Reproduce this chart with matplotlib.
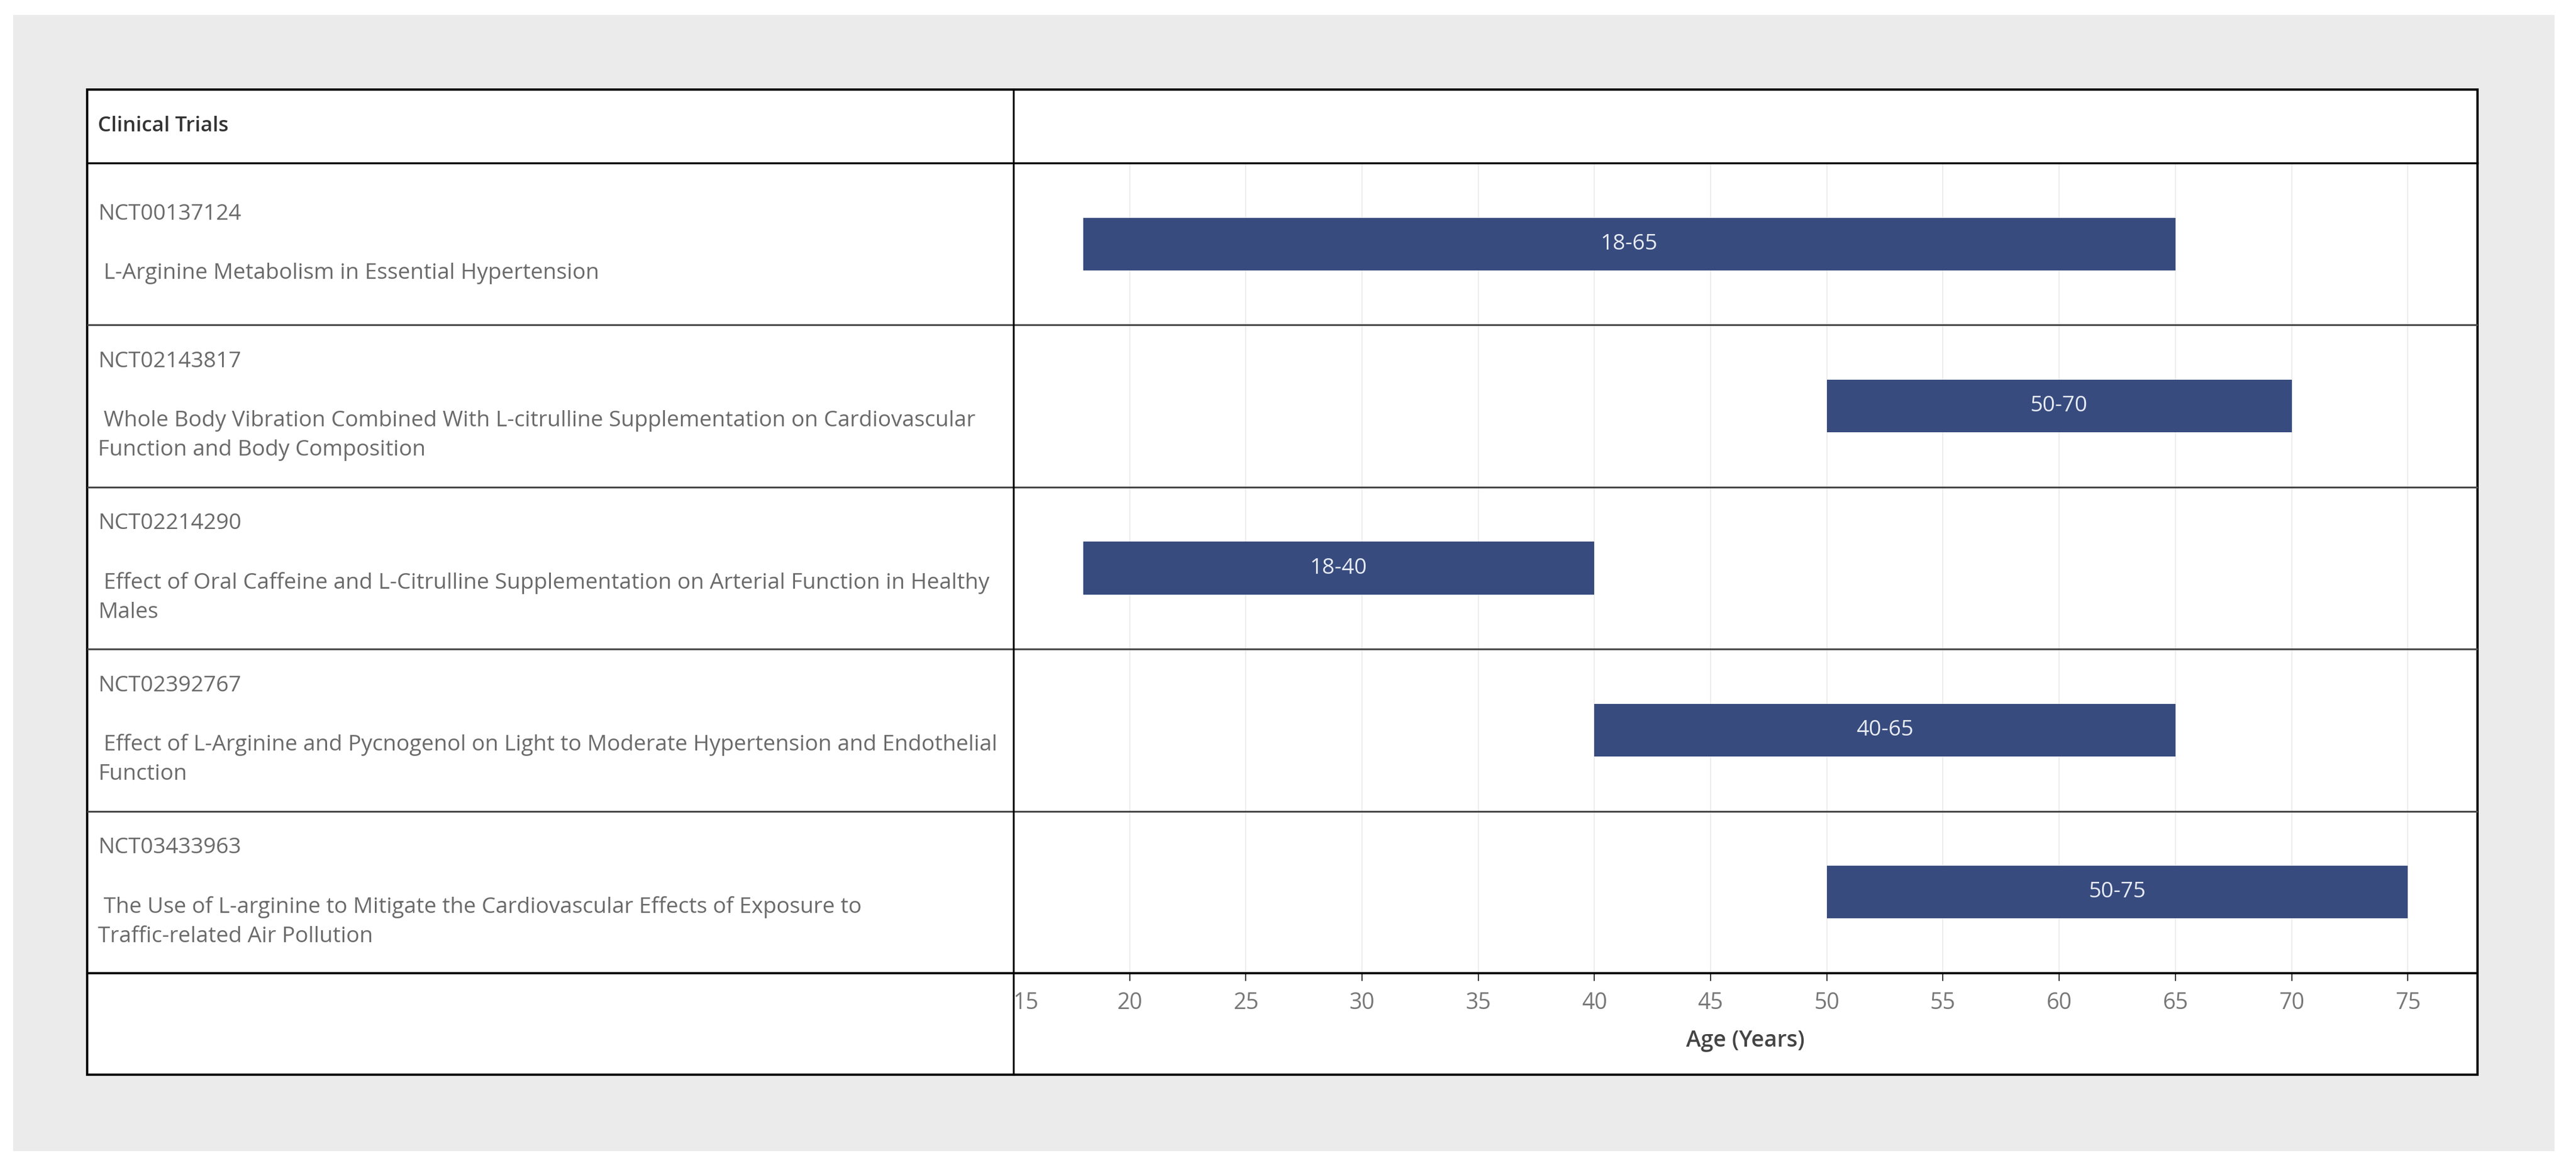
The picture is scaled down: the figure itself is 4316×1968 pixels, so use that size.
import matplotlib
matplotlib.use("Agg")
import matplotlib.pyplot as plt
from matplotlib.patches import Rectangle

# data
trial_ids = ["NCT00137124", "NCT02143817", "NCT02214290", "NCT02392767", "NCT03433963"]
trial_titles = [
    [" L-Arginine Metabolism in Essential Hypertension"],
    [" Whole Body Vibration Combined With L-citrulline Supplementation on Cardiovascular",
     "Function and Body Composition"],
    [" Effect of Oral Caffeine and L-Citrulline Supplementation on Arterial Function in Healthy",
     "Males"],
    [" Effect of L-Arginine and Pycnogenol on Light to Moderate Hypertension and Endothelial",
     "Function"],
    [" The Use of L-arginine to Mitigate the Cardiovascular Effects of Exposure to",
     "Traffic-related Air Pollution"],
]
age_min = [18, 50, 18, 40, 50]
age_max = [65, 70, 40, 65, 75]
age_ticks = [15, 20, 25, 30, 35, 40, 45, 50, 55, 60, 65, 70, 75]
header_label = "Clinical Trials"
axis_label = "Age (Years)"

plt.rcParams['font.family'] = ['Open Sans', 'DejaVu Sans']

W, H = 4316, 1968
fig = plt.figure(figsize=(W / 100, H / 100), dpi=100)
fig.patch.set_facecolor("white")

# table layout in pixels
L, D, R = 146, 1698, 4151
T, HB, AB, B = 150, 273, 1630, 1800
n = len(trial_ids)
row_h = (AB - HB) / n

# background: grey card + white table
bg = fig.add_axes([0, 0, 1, 1], zorder=0)
bg.set_xlim(0, W)
bg.set_ylim(H, 0)
bg.axis("off")
bg.add_patch(Rectangle((22, 25), 4258, 1903, color="#ebebeb", lw=0))
bg.add_patch(Rectangle((L, T), R - L, B - T, color="white", lw=0))

# chart area
ax = fig.add_axes([D / W, 1 - AB / H, (R - D) / W, (AB - HB) / H], zorder=1)
ax.set_facecolor("white")
widths = [hi - lo for lo, hi in zip(age_min, age_max)]
bars = ax.barh(range(n), widths, left=age_min, height=0.325, color="#374b7e", zorder=3)
for i, (lo, hi) in enumerate(zip(age_min, age_max)):
    ax.text((lo + hi) / 2, i, f"{lo}-{hi}", ha="center", va="center",
            color="#e6eaf3", fontsize=26.5, zorder=4)
ax.set_xlim(15, 78)
ax.set_ylim(n - 0.5, -0.5)
ax.set_yticks([])
ax.set_xticks(age_ticks)
ax.grid(axis="x", color="#ececec", lw=1.3)
ax.set_axisbelow(True)
for s in ax.spines.values():
    s.set_visible(False)
ax.tick_params(axis="x", length=9.5, width=1.1, color="black", labelcolor="#777777",
               labelsize=27, pad=13)
ax.get_xticklabels()[0].set_horizontalalignment("left")
ax.set_xlabel(axis_label, fontsize=27, fontweight="semibold", color="#444444", labelpad=18)

# overlay: table lines and left column text
ov = fig.add_axes([0, 0, 1, 1], zorder=2)
ov.set_xlim(0, W)
ov.set_ylim(H, 0)
ov.axis("off")
ov.patch.set_alpha(0)

for i in range(1, n):
    y = HB + i * row_h
    ov.plot([L, R], [y, y], color="#4a4a4a", lw=2.2, solid_capstyle="butt")
ov.plot([L, R], [HB, HB], color="black", lw=2.4)
ov.plot([L, R], [AB, AB], color="black", lw=2.6)
ov.plot([D, D], [T, B], color="black", lw=2.2)
ov.add_patch(Rectangle((L, T), R - L, B - T, fill=False, ec="black", lw=2.8))

ov.text(L + 18, (T + HB) / 2, header_label, ha="left", va="center",
        fontsize=25, fontweight="semibold", color="#333333")

line_gap = 49.5
for i, (tid, title) in enumerate(zip(trial_ids, trial_titles)):
    lines = [tid, ""] + title
    yc = HB + (i + 0.5) * row_h
    for j, txt in enumerate(lines):
        y = yc + (j - (len(lines) - 1) / 2) * line_gap
        ov.text(L + 18, y, txt, ha="left", va="center", fontsize=26.6, color="#6a6a6a")

fig.savefig("out.png", dpi=100, facecolor="white")
